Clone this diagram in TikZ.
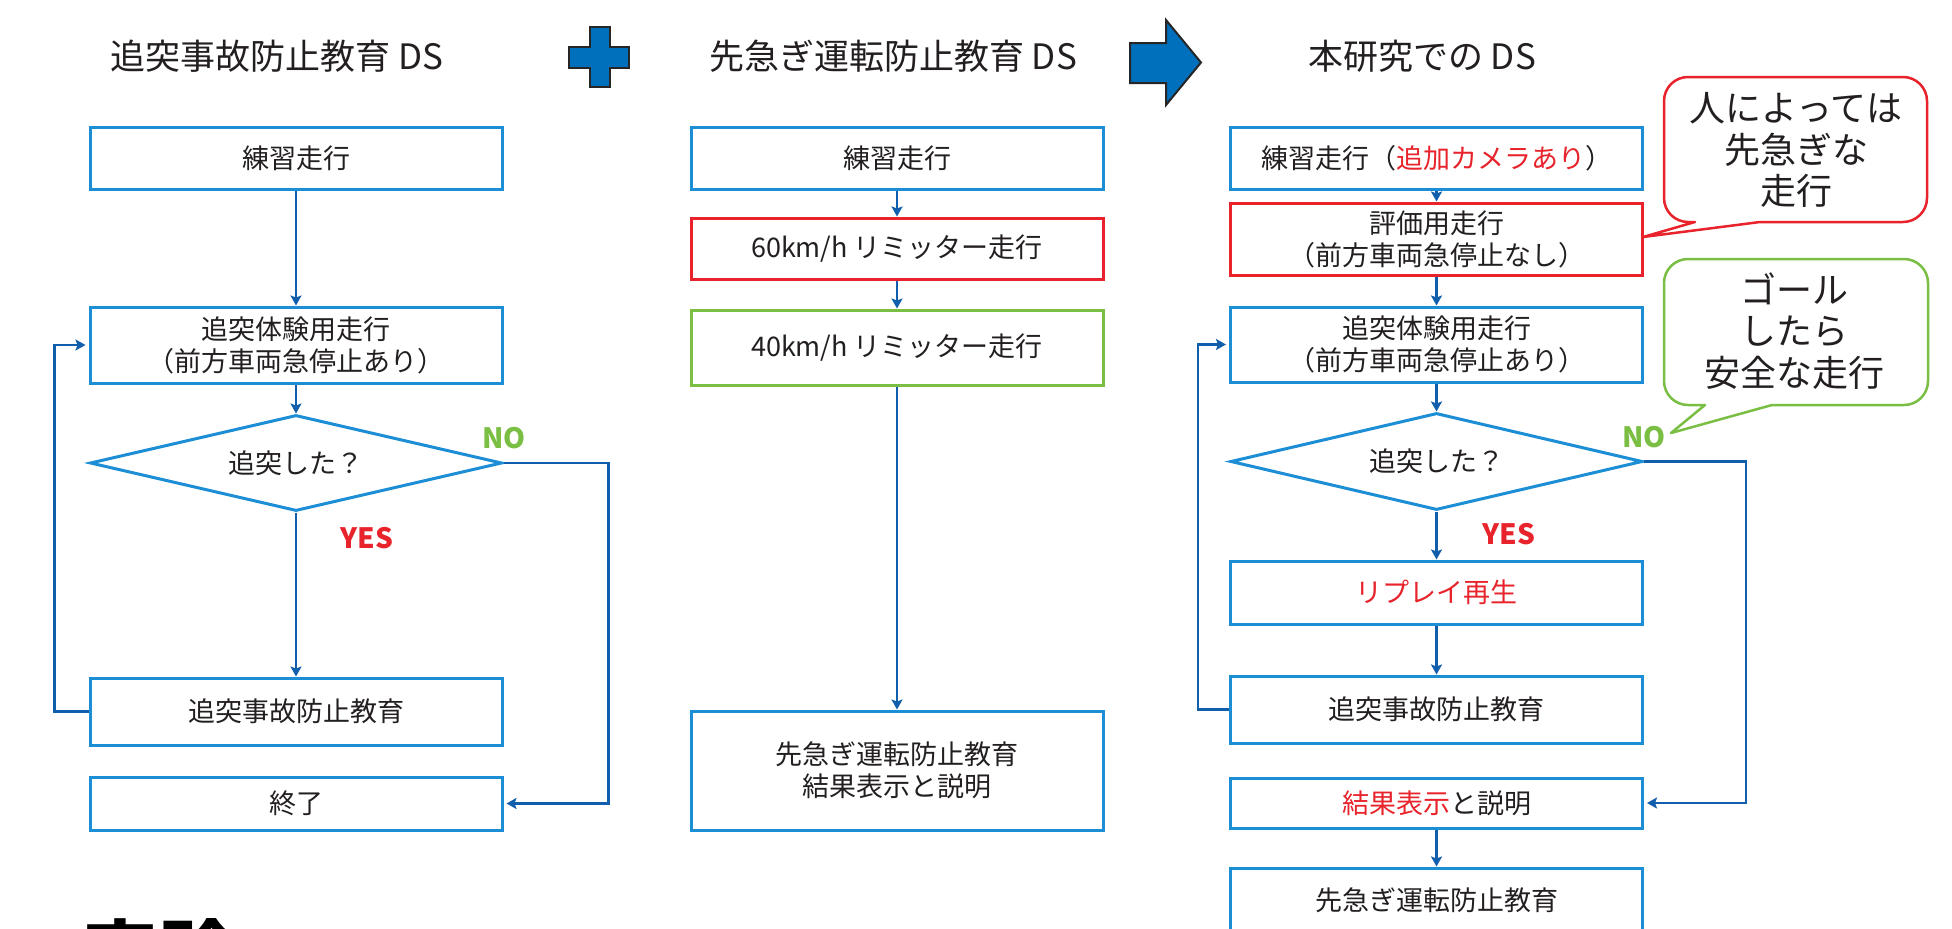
\documentclass[tikz,border=0pt]{standalone}
\usepackage{fontspec}
\setmainfont{Noto Sans CJK JP}
\usetikzlibrary{shapes.geometric, arrows.meta}
\definecolor{boxblue}{RGB}{28,142,214}
\definecolor{arrblue}{RGB}{16,94,172}
\definecolor{myred}{RGB}{232,35,43}
\definecolor{mygreen}{RGB}{122,190,67}
\definecolor{iconblue}{RGB}{0,112,188}
\definecolor{txt}{RGB}{35,31,32}
\begin{document}
\begin{tikzpicture}[x=1pt,y=-1pt,
  box/.style={draw=boxblue, line width=3pt, fill=white, minimum width=412pt, inner sep=0pt, align=center, text=txt, font=\fontsize{27}{32}\selectfont},
  redbox/.style={box, draw=myred},
  greenbox/.style={box, draw=mygreen},
  dia/.style={diamond, draw=boxblue, line width=3pt, fill=white, minimum width=412pt, minimum height=96pt, inner sep=0pt, aspect=4.3, text=txt, font=\fontsize{27}{32}\selectfont},
  arr/.style={draw=arrblue, line width=2.8pt, -{Stealth[width=11pt,length=10pt,inset=2pt]}},
  sidearr/.style={arr, shorten >=3pt},
  ttl/.style={text=txt, font=\fontsize{35}{40}\selectfont},
  yeslbl/.style={text=myred, font=\bfseries\fontsize{28}{30}\selectfont},
  nolbl/.style={text=mygreen, font=\bfseries\fontsize{28}{30}\selectfont},
  bubtext/.style={text=txt, align=center, font=\fontsize{36}{41.5}\selectfont},
  icon/.style={fill=iconblue, draw=black!85, line width=2pt, line join=miter},
  bubble/.style={line width=2.5pt, fill=white, line join=round}
]
\useasboundingbox (0,0) rectangle (1952,929);
\clip (0,0) rectangle (1952,929);
\fill[white] (0,0) rectangle (1952,929);

% titles
\node[ttl] (t1) at (277,56) {追突事故防止教育 DS};
\node[ttl] (t2) at (893,56) {先急ぎ運転防止教育 DS};
\node[ttl] (t3) at (1422,56) {本研究での DS};

% plus icon
\draw[icon] (589.5,27) -- (609.5,27) -- (609.5,46.5) -- (629,46.5) -- (629,67.5) -- (609.5,67.5) -- (609.5,87) -- (589.5,87) -- (589.5,67.5) -- (569,67.5) -- (569,46.5) -- (589.5,46.5) -- cycle;
% arrow icon
\draw[icon] (1130,43) -- (1166,43) -- (1166,20) -- (1201,62.5) -- (1166,105) -- (1166,83) -- (1130,83) -- cycle;

% left column
\node[box, minimum height=62pt] (l1) at (296,158) {練習走行};
\node[box, minimum height=76pt] (l2) at (296,345) {追突体験用走行\\（前方車両急停止あり）};
\node[dia] (ld) at (296,463) {追突した？};
\node[box, minimum height=67pt] (l3) at (296,711.5) {追突事故防止教育};
\node[box, minimum height=53pt] (l4) at (296,803.5) {終了};
\node[nolbl] (n1) at (504,438) {NO};
\node[yeslbl] (y1) at (367,538) {YES};

\draw[arr] (l1.south) -- (l2.north);
\draw[arr] (l2.south) -- (ld.north);
\draw[arr] (ld.south) -- (l3.north);
\draw[sidearr] (l3.west) -- ++(-34,0) |- (l2.west);
\draw[sidearr] (ld.east) -- ++(105,0) |- (l4.east);

% middle column
\node[box, minimum height=62pt] (m1) at (897,158) {練習走行};
\node[redbox, minimum height=61pt] (m2) at (897,248.5) {60km/h リミッター走行};
\node[greenbox, minimum height=75pt] (m3) at (897,347.5) {40km/h リミッター走行};
\node[box, minimum height=119pt] (m4) at (897,770.5) {先急ぎ運転防止教育\\結果表示と説明};

\draw[arr] (m1.south) -- (m2.north);
\draw[arr] (m2.south) -- (m3.north);
\draw[arr] (m3.south) -- (m4.north);

% right column
\node[box, minimum height=62pt] (r1) at (1436.5,158) {練習走行（\textcolor{myred}{追加カメラあり}）};
\node[redbox, minimum height=72pt] (r2) at (1436.5,239) {評価用走行\\（前方車両急停止なし）};
\node[box, minimum height=75pt] (r3) at (1436.5,344.5) {追突体験用走行\\（前方車両急停止あり）};
\node[dia, minimum height=97pt] (rd) at (1436.5,461.5) {追突した？};
\node[box, minimum height=63pt] (r4) at (1436.5,592.5) {\textcolor{myred}{リプレイ再生}};
\node[box, minimum height=67pt] (r5) at (1436.5,709.5) {追突事故防止教育};
\node[box, minimum height=50pt] (r6) at (1436.5,803) {\textcolor{myred}{結果表示}と説明};
\node[box, minimum height=64pt] (r7) at (1436.5,900) {先急ぎ運転防止教育};
\node[nolbl] (n2) at (1644,437) {NO};
\node[yeslbl] (y2) at (1509,534) {YES};

\draw[arr] (r1.south) -- (r2.north);
\draw[arr] (r2.south) -- (r3.north);
\draw[arr] (r3.south) -- (rd.north);
\draw[arr] (rd.south) -- (r4.north);
\draw[arr] (r4.south) -- (r5.north);
\draw[arr] (r6.south) -- (r7.north);
\draw[sidearr] (r5.west) -- ++(-31,0) |- (r3.west);
\draw[sidearr] (rd.east) -- ++(102,0) |- (r6.east);

% callouts
\draw[bubble, draw=myred] (1695,222) -- (1643,237) -- (1760,222) -- (1903,222)
  arc[start angle=90, end angle=0, radius=24] -- (1927,101)
  arc[start angle=0, end angle=-90, radius=24] -- (1688,77)
  arc[start angle=-90, end angle=-180, radius=24] -- (1664,198)
  arc[start angle=180, end angle=90, radius=24] -- cycle;
\node[bubtext] (b1) at (1796,150) {人によっては\\先急ぎな\\走行};

\draw[bubble, draw=mygreen] (1705,405) -- (1671,433) -- (1772,405) -- (1904,405)
  arc[start angle=90, end angle=0, radius=24] -- (1928,283)
  arc[start angle=0, end angle=-90, radius=24] -- (1688,259)
  arc[start angle=-90, end angle=-180, radius=24] -- (1664,381)
  arc[start angle=180, end angle=90, radius=24] -- cycle;
\node[bubtext] (b2) at (1794,331) {ゴール\\したら\\安全な走行};

% cut-off heading
\node[anchor=base west, text=black, inner sep=0pt, font=\bfseries\fontsize{76}{80}\selectfont] (jk) at (82,983) {実験};
\end{tikzpicture}
\end{document}
